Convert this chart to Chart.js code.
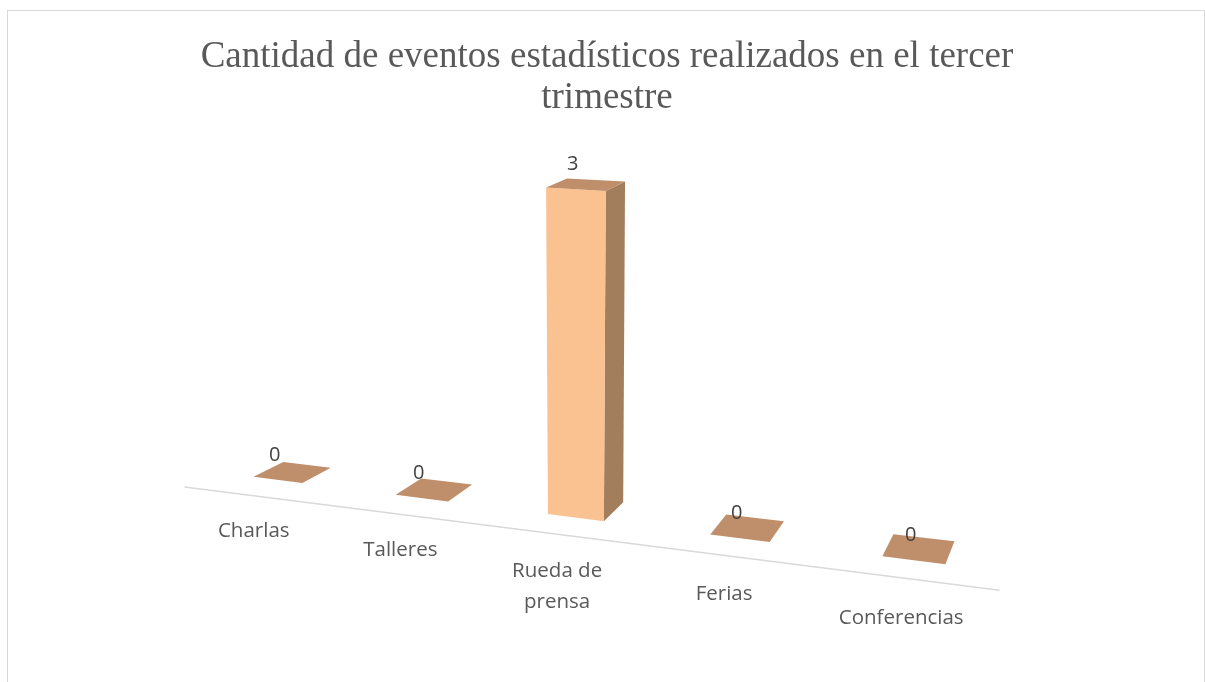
<!DOCTYPE html>
<html>
<head>
<meta charset="utf-8">
<script src="https://cdn.jsdelivr.net/npm/chart.js@4.4.0/dist/chart.umd.min.js"></script>
<style>
  html, body { margin: 0; padding: 0; background: #fff; overflow: hidden; }
  #frame { position: absolute; left: 7px; top: 10px; width: 1196px; height: 700px; border: 1px solid #d9d9d9; }
  #myChart { position: absolute; left: 0; top: 0; }
</style>
</head>
<body>
<div id="frame"></div>
<canvas id="myChart" width="1205" height="682"></canvas>
<script>
var categories = ['Charlas', 'Talleres', ['Rueda de', 'prensa'], 'Ferias', 'Conferencias'];
var eventCounts = [0, 0, 3, 0, 0];
var titleLines = ['Cantidad de eventos estadísticos realizados en el tercer', 'trimestre'];
var yTicks = [0, 3];

var frontColor = '#fac191';
var sideColor = '#a27e5c';
var topColor = '#bf8f6b';
var textColor = '#595959';

// fake perspective: floor slants down to the right and widens
function warpX(area, px) {
  var u = px - area.left;
  return area.left + 19.5 + 0.8034 * u + 0.0001797 * u * u;
}
function floorY(area, X) {
  return area.bottom - 6.7 + 0.1265 * (X - area.left - 20);
}
function depthDx(X) {
  return 29 - 0.03 * (X - 280);
}
function depthDy(X) {
  return -(15 + 0.012 * (X - 280));
}

function corner(area, cx, X, back, hs) {
  var full = area.bottom - area.top;
  var sx = cx + (X - cx) * (1 + 0.0002 * hs);
  var h = hs * (1 + 0.0002 * (X - cx));
  var sy = floorY(area, X) - h;
  if (back) {
    sx += depthDx(X);
    sy += depthDy(X) * (1 - 0.5 * hs / full);
  }
  return [sx, sy];
}

function poly(ctx, pts, color) {
  ctx.beginPath();
  ctx.moveTo(pts[0][0], pts[0][1]);
  for (var i = 1; i < pts.length; i++) ctx.lineTo(pts[i][0], pts[i][1]);
  ctx.closePath();
  ctx.fillStyle = color;
  ctx.fill();
}

var bars3d = {
  id: 'bars3d',
  afterDatasetsDraw: function (chart) {
    var ctx = chart.ctx;
    var area = chart.chartArea;
    var yScale = chart.scales.y;
    var meta = chart.getDatasetMeta(0);
    ctx.save();

    // floor line
    var x1 = warpX(area, area.left) - 25;
    var x2 = warpX(area, area.right) - 5;
    ctx.strokeStyle = '#d9d9d9';
    ctx.lineWidth = 1.5;
    ctx.beginPath();
    ctx.moveTo(x1, floorY(area, x1) + 19);
    ctx.lineTo(x2, floorY(area, x2) + 19);
    ctx.stroke();

    meta.data.forEach(function (el, i) {
      var v = chart.data.datasets[0].data[i];
      var hs = yScale.getPixelForValue(0) - yScale.getPixelForValue(v);
      var cx = warpX(area, el.x);
      var xl = warpX(area, el.x - el.width / 2);
      var xr = warpX(area, el.x + el.width / 2);

      if (hs > 0) {
        poly(ctx, [corner(area, cx, xr, false, 0), corner(area, cx, xr, false, hs),
                   corner(area, cx, xr, true, hs), corner(area, cx, xr, true, 0)], sideColor);
        poly(ctx, [corner(area, cx, xl, false, 0), corner(area, cx, xr, false, 0),
                   corner(area, cx, xr, false, hs), corner(area, cx, xl, false, hs)], frontColor);
      }
      poly(ctx, [corner(area, cx, xl, false, hs), corner(area, cx, xr, false, hs),
                 corner(area, cx, xr, true, hs), corner(area, cx, xl, true, hs)], topColor);

      // value label
      ctx.font = '20px "Open Sans"';
      ctx.textAlign = 'center';
      ctx.textBaseline = 'middle';
      ctx.fillStyle = '#404040';
      ctx.fillText(String(v), cx - 3, floorY(area, cx) - hs - 25);

      // category label
      var lbl = chart.data.labels[i];
      var lines = Array.isArray(lbl) ? lbl : [lbl];
      var lx = cx - 24 + 0.018 * (cx - 278);
      var ly = floorY(area, cx) + 51 + 0.01 * (cx - 278);
      ctx.font = '20.5px "Open Sans"';
      ctx.fillStyle = textColor;
      for (var j = 0; j < lines.length; j++) {
        ctx.fillText(lines[j], lx, ly + j * 31);
      }
    });
    ctx.restore();
  }
};

var ctx = document.getElementById('myChart');
new Chart(ctx, {
  type: 'bar',
  data: {
    labels: categories,
    datasets: [{
      label: 'Eventos',
      data: eventCounts,
      backgroundColor: 'rgba(0,0,0,0)',
      borderWidth: 0,
      barPercentage: 0.352,
      categoryPercentage: 1
    }]
  },
  options: {
    responsive: false,
    animation: false,
    layout: { padding: { left: 190, right: 181, top: 0, bottom: 204 } },
    plugins: {
      legend: { display: false },
      tooltip: { enabled: false },
      title: {
        display: true,
        text: titleLines,
        color: textColor,
        font: { family: '"Liberation Serif", "Times New Roman", serif', size: 37, weight: 'normal', lineHeight: 1.13 },
        padding: { top: 36, bottom: 30 }
      }
    },
    scales: {
      x: { display: false },
      y: { display: false, min: yTicks[0], max: yTicks[1] }
    }
  },
  plugins: [bars3d]
});
</script>
</body>
</html>
